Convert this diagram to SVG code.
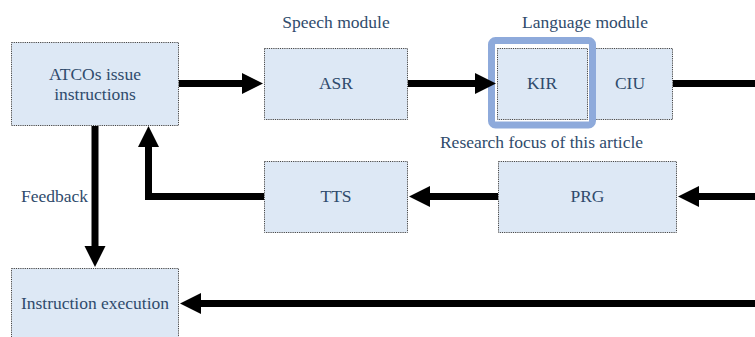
<svg xmlns="http://www.w3.org/2000/svg" width="755" height="337" viewBox="0 0 755 337">
<style>
.box{fill:#dde8f5;stroke:#444;stroke-width:1;stroke-dasharray:1.2 1}
.t{font-family:"Liberation Serif","Times New Roman","DejaVu Serif",serif;font-size:17.5px;fill:#2f4b6c;text-anchor:middle}
.c{fill:none;stroke:#000;stroke-width:7;stroke-linejoin:miter}
</style>
<defs>
<marker id="ah" markerUnits="userSpaceOnUse" markerWidth="22" markerHeight="22" refX="1" refY="10.5" orient="auto" viewBox="0 0 22 21">
<path d="M0,0 L21,10.5 L0,21 z" fill="#000"/>
</marker>
</defs>
<rect width="755" height="337" fill="#fff"/>
<g id="atcos"><rect class="box" x="11.5" y="42.5" width="167" height="83"/><text class="t" x="95" y="80">ATCOs issue</text><text class="t" x="95" y="100">instructions</text></g>
<g id="asr"><rect class="box" x="264.5" y="48.5" width="143" height="71"/><text class="t" x="336" y="89">ASR</text></g>
<g id="speech-label"><text class="t" x="336" y="28">Speech module</text></g>
<g id="ciu"><rect class="box" x="587.5" y="48.5" width="85" height="71"/><text class="t" x="630" y="89">CIU</text></g>
<g id="focus-frame"><rect x="491.5" y="40.5" width="101" height="84.5" rx="4" fill="#fff" stroke="#8eaadb" stroke-width="7"/></g>
<g id="kir"><rect class="box" x="497.5" y="48.5" width="90" height="71"/><text class="t" x="542" y="89">KIR</text></g>
<g id="language-label"><text class="t" x="585" y="28">Language module</text></g>
<g id="focus-label"><text class="t" x="541.5" y="148">Research focus of this article</text></g>
<g id="prg"><rect class="box" x="498.5" y="161.5" width="178" height="71"/><text class="t" x="587.5" y="202">PRG</text></g>
<g id="tts"><rect class="box" x="264.5" y="161.5" width="143" height="71"/><text class="t" x="336" y="202">TTS</text></g>
<g id="exec"><rect class="box" x="11.5" y="268.5" width="167" height="72"/><text class="t" x="95" y="309">Instruction execution</text></g>
<g id="connectors">
<path class="c" d="M179,83.5 H243" marker-end="url(#ah)"/>
<path class="c" d="M408,83.5 H476" marker-end="url(#ah)"/>
<path class="c" d="M673,83.5 H755"/>
<path class="c" d="M755,196.5 H698" marker-end="url(#ah)"/>
<path class="c" d="M498,196.5 H429" marker-end="url(#ah)"/>
<path class="c" d="M264,196.5 H148.5 V146" marker-end="url(#ah)"/>
<path class="c" d="M95,126 V247" marker-end="url(#ah)"/>
<path class="c" d="M755,303.5 H200" marker-end="url(#ah)"/>
<text class="t" x="88" y="202" style="text-anchor:end">Feedback</text>
</g>
</svg>
